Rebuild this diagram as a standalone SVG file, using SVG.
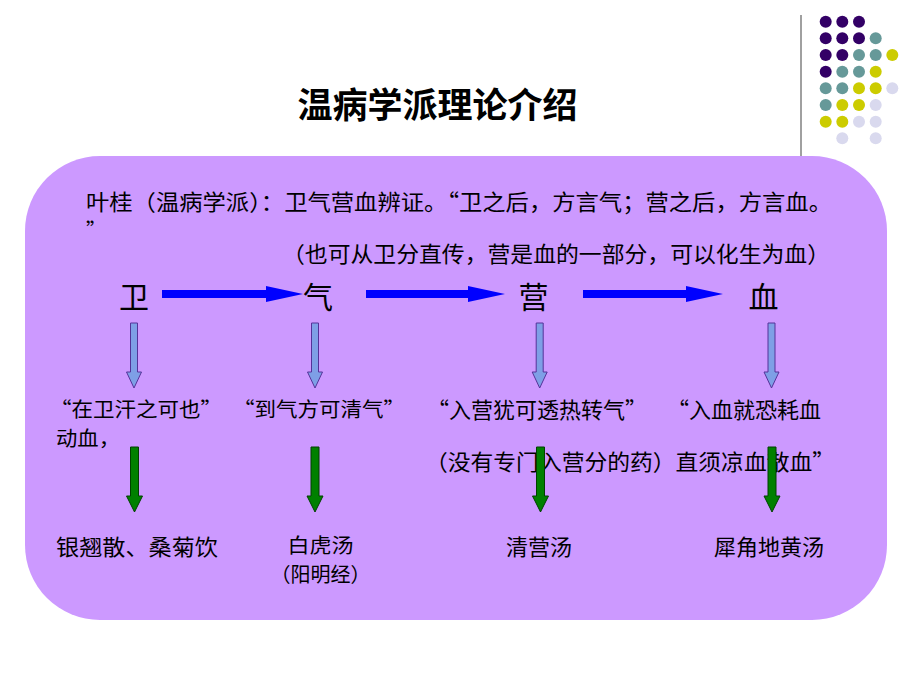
<svg xmlns="http://www.w3.org/2000/svg" width="920" height="690" viewBox="0 0 920 690">
<style>
.t{font-family:"Noto Sans CJK SC","Liberation Sans",sans-serif;fill:#000;}
.b{font-size:22px;}
.s{font-size:20px;}
.big{font-size:30px;}
.ti{font-size:35px;font-weight:bold;}
.bl{fill:#0000FF;}
.lb{fill:#7E9FE6;stroke:#553399;stroke-width:1;}
.gr{fill:#008000;stroke:#004000;stroke-width:1;}
.P{fill:#330066}.T{fill:#669999}.Y{fill:#CCCC00}.L{fill:#D9D9EE}
</style>
<rect width="920" height="690" fill="#fff"/>
<g id="decor">
<line x1="801" y1="15" x2="801" y2="156" stroke="#808080" stroke-width="1.5"/>
<g>
<circle class="P" cx="825.7" cy="21.7" r="6"/><circle class="P" cx="842.3" cy="21.7" r="6"/><circle class="P" cx="859" cy="21.7" r="6"/>
<circle class="P" cx="825.7" cy="38.3" r="6"/><circle class="P" cx="842.3" cy="38.3" r="6"/><circle class="P" cx="859" cy="38.3" r="6"/><circle class="T" cx="875.7" cy="38.3" r="6"/>
<circle class="P" cx="825.7" cy="55" r="6"/><circle class="P" cx="842.3" cy="55" r="6"/><circle class="T" cx="859" cy="55" r="6"/><circle class="T" cx="875.7" cy="55" r="6"/><circle class="Y" cx="892.3" cy="55" r="6"/>
<circle class="P" cx="825.7" cy="71.7" r="6"/><circle class="T" cx="842.3" cy="71.7" r="6"/><circle class="T" cx="859" cy="71.7" r="6"/><circle class="Y" cx="875.7" cy="71.7" r="6"/>
<circle class="T" cx="825.7" cy="88.3" r="6"/><circle class="T" cx="842.3" cy="88.3" r="6"/><circle class="Y" cx="859" cy="88.3" r="6"/><circle class="Y" cx="875.7" cy="88.3" r="6"/><circle class="L" cx="892.3" cy="88.3" r="6"/>
<circle class="T" cx="825.7" cy="105" r="6"/><circle class="Y" cx="842.3" cy="105" r="6"/><circle class="Y" cx="859" cy="105" r="6"/><circle class="L" cx="875.7" cy="105" r="6"/>
<circle class="Y" cx="825.7" cy="121.7" r="6"/><circle class="Y" cx="842.3" cy="121.7" r="6"/><circle class="L" cx="859" cy="121.7" r="6"/><circle class="L" cx="875.7" cy="121.7" r="6"/>
<circle class="L" cx="842.3" cy="138.3" r="6"/><circle class="L" cx="875.7" cy="138.3" r="6"/>
</g>
</g>
<text id="title" class="t ti" x="437.5" y="118" text-anchor="middle">温病学派理论介绍</text>
<rect id="panel" x="25" y="156" width="862" height="464" rx="75" ry="75" fill="#CC99FF"/>
<g id="intro">
<text class="t b" x="86" y="210" textLength="746" lengthAdjust="spacingAndGlyphs">叶桂（温病学派）：卫气营血辨证。“卫之后，方言气；营之后，方言血。</text>
<text class="t s" x="86" y="238">”</text>
<text class="t b" x="282" y="262" textLength="548" lengthAdjust="spacingAndGlyphs">（也可从卫分直传，营是血的一部分，可以化生为血）</text>
</g>
<g id="wei"><text class="t big" x="134" y="308" text-anchor="middle">卫</text></g>
<g id="qi"><text class="t big" x="318" y="308" text-anchor="middle">气</text></g>
<g id="ying"><text class="t big" x="533.5" y="308" text-anchor="middle">营</text></g>
<g id="xue"><text class="t big" x="763.5" y="308" text-anchor="middle">血</text></g>
<g id="quotes">
<text class="t s" x="50" y="417" textLength="172" lengthAdjust="spacingAndGlyphs">“在卫汗之可也”</text>
<text class="t s" x="56" y="446" textLength="64" lengthAdjust="spacingAndGlyphs">动血，</text>
<text class="t s" x="233" y="417" textLength="172" lengthAdjust="spacingAndGlyphs">“到气方可清气”</text>
<text class="t b" x="427" y="418" textLength="220" lengthAdjust="spacingAndGlyphs">“入营犹可透热转气”</text>
<text class="t b" x="667" y="418" textLength="154" lengthAdjust="spacingAndGlyphs">“入血就恐耗血</text>
<text class="t b" x="425" y="470" textLength="410" lengthAdjust="spacingAndGlyphs">（没有专门入营分的药）直须凉血散血”</text>
</g>
<g id="formulas">
<text class="t b" x="56" y="555" textLength="162" lengthAdjust="spacingAndGlyphs">银翘散、桑菊饮</text>
<text class="t s" x="320.5" y="553" text-anchor="middle" textLength="66" lengthAdjust="spacingAndGlyphs">白虎汤</text>
<text class="t s" x="320.5" y="582" text-anchor="middle" textLength="100" lengthAdjust="spacingAndGlyphs">（阳明经）</text>
<text class="t b" x="539" y="555" text-anchor="middle">清营汤</text>
<text class="t b" x="769" y="555" text-anchor="middle">犀角地黄汤</text>
</g>
<g id="connectors">
<polygon class="bl" points="162,290 266,290 266,286 303,294 266,302 266,298 162,298"/>
<polygon class="bl" points="366,290 468,290 468,286 505,294 468,302 468,298 366,298"/>
<polygon class="bl" points="583,290 686,290 686,286 723,294 686,302 686,298 583,298"/>
<polygon class="lb" points="130.5,323 137.5,323 137.5,372 141.5,372 134,388 126.5,372 130.5,372"/>
<polygon class="lb" points="311.5,323 318.5,323 318.5,372 322.5,372 315,388 307.5,372 311.5,372"/>
<polygon class="lb" points="536.2,323 543.2,323 543.2,372 547.2,372 539.7,388 532.2,372 536.2,372"/>
<polygon class="lb" points="768,323 775,323 775,372 779,372 771.5,388 764,372 768,372"/>
<polygon class="gr" points="130.5,447 138.5,447 138.5,496 142.5,496 134.5,512 126.5,496 130.5,496"/>
<polygon class="gr" points="311,447 319,447 319,496 323,496 315,512 307,496 311,496"/>
<polygon class="gr" points="536.5,447 544.5,447 544.5,496 548.5,496 540.5,512 532.5,496 536.5,496"/>
<polygon class="gr" points="768,447 776,447 776,496 780,496 772,512 764,496 768,496"/>
</g>
</svg>
